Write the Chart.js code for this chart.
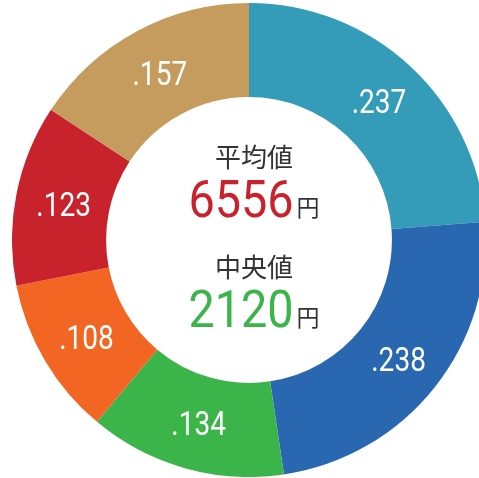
<!DOCTYPE html>
<html>
<head>
<meta charset="utf-8">
<script src="https://cdn.jsdelivr.net/npm/chart.js@4/dist/chart.umd.min.js"></script>
<style>
  html, body { margin: 0; padding: 0; background: #fff; }
  body { width: 479px; height: 478px; overflow: hidden; position: relative; }
  .wrap { position: absolute; left: 12px; top: 3px; width: 474px; height: 474px; }
</style>
</head>
<body>
<div class="wrap"><canvas id="donut"></canvas></div>
<script>
/* data */
const shares = [0.237, 0.238, 0.134, 0.108, 0.123, 0.157];
const shareLabels = [".237", ".238", ".134", ".108", ".123", ".157"];
const colors = ["#349bb9", "#2968b1", "#3bb54a", "#f26522", "#c8232c", "#c69c5e"];
const meanTitle = "平均値";
const meanValue = "6556";
const medianTitle = "中央値";
const medianValue = "2120";
const unit = "円";

function drawText(ctx, text, x, y, font, color, sx, align, base) {
  ctx.save();
  ctx.translate(x, y);
  ctx.scale(sx, 1);
  ctx.font = font;
  ctx.fillStyle = color;
  ctx.textAlign = align;
  ctx.textBaseline = base;
  ctx.fillText(text, 0, 0);
  ctx.restore();
}

/* white labels on slices */
const sliceLabels = {
  id: "sliceLabels",
  afterDatasetsDraw(chart) {
    const ctx = chart.ctx;
    chart.getDatasetMeta(0).data.forEach((arc, i) => {
      const p = arc.tooltipPosition();
      drawText(ctx, shareLabels[i], p.x + 1, p.y + 4, "33px Roboto", "#fff", 0.85, "center", "middle");
    });
  }
};

/* center text */
function drawAmount(ctx, num, cx, baseY, color) {
  ctx.save();
  ctx.font = "52px Roboto";
  const nw = ctx.measureText(num).width * 0.9;
  ctx.font = "23px 'Noto Sans CJK JP'";
  const uw = ctx.measureText(unit).width;
  ctx.restore();
  const total = nw + 3 + uw;
  const left = cx - total / 2;
  drawText(ctx, num, left, baseY, "52px Roboto", color, 0.9, "left", "alphabetic");
  drawText(ctx, unit, left + nw + 3, baseY - 1, "23px 'Noto Sans CJK JP'", "#333", 1, "left", "alphabetic");
}

const centerText = {
  id: "centerText",
  afterDraw(chart) {
    const ctx = chart.ctx;
    const a = chart.chartArea;
    const cx = (a.left + a.right) / 2 + 5;
    const cy = (a.top + a.bottom) / 2;
    drawText(ctx, meanTitle, cx, cy - 83, "26px 'Noto Sans CJK JP'", "#333", 1, "center", "middle");
    drawAmount(ctx, meanValue, cx, cy - 23, "#c8232c");
    drawText(ctx, medianTitle, cx, cy + 27, "26px 'Noto Sans CJK JP'", "#333", 1, "center", "middle");
    drawAmount(ctx, medianValue, cx, cy + 87, "#3bb54a");
  }
};

new Chart(document.getElementById("donut"), {
  type: "doughnut",
  data: {
    labels: shareLabels,
    datasets: [
      {
        data: shares,
        backgroundColor: colors,
        borderWidth: 0,
      },
    ],
  },
  options: {
    responsive: true,
    maintainAspectRatio: false,
    animation: false,
    cutout: "60.3%",
    layout: { padding: 0 },
    plugins: {
      legend: { display: false },
      tooltip: { enabled: false },
    },
  },
  plugins: [sliceLabels, centerText],
});
</script>
</body>
</html>
